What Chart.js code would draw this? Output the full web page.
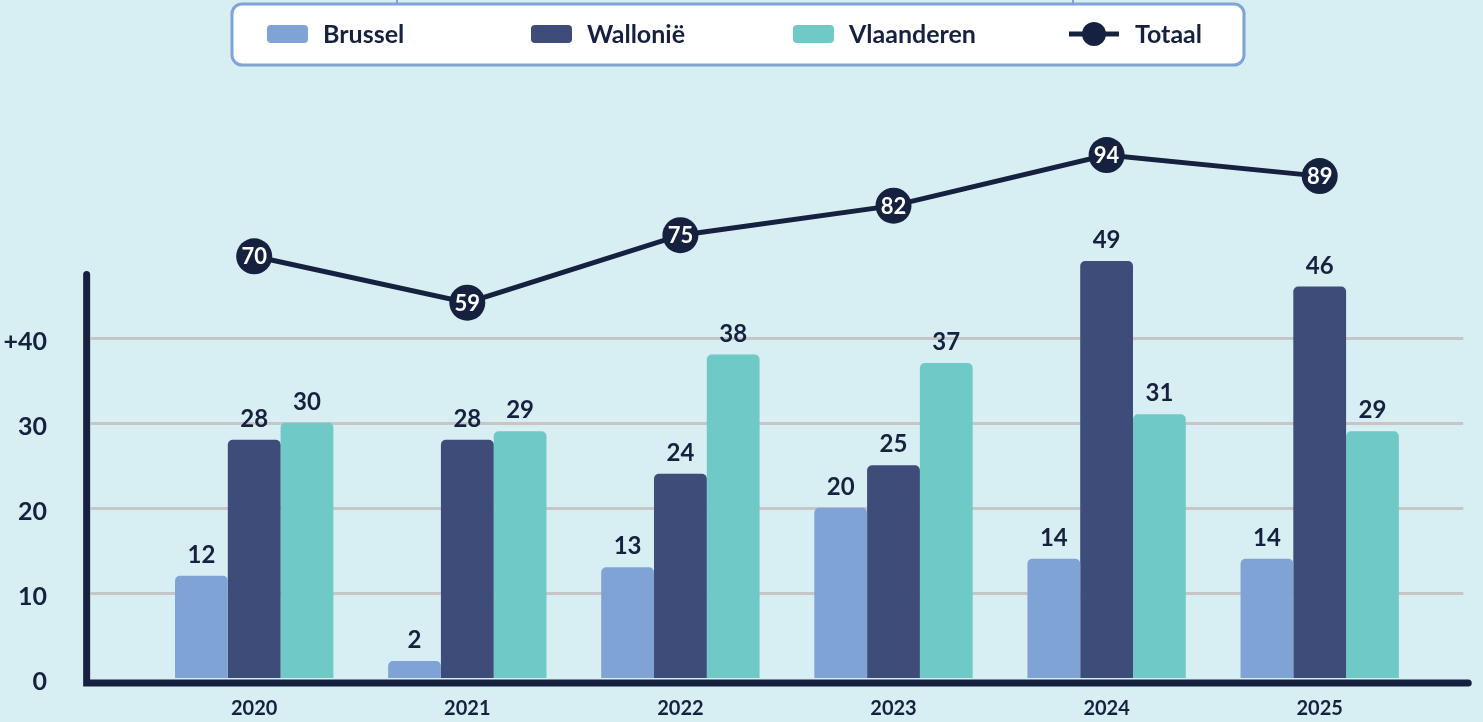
<!DOCTYPE html>
<html><head><meta charset="utf-8">
<script src="https://cdn.jsdelivr.net/npm/chart.js@4"></script>
<style>html,body{margin:0;padding:0;background:#d7eef2;overflow:hidden}</style>
</head><body>
<canvas id="c" width="1483" height="722"></canvas>
<script>
const categories = ['2020','2021','2022','2023','2024','2025'];
const brussel    = [12, 2, 13, 20, 14, 14];
const wallonie   = [28, 28, 24, 25, 49, 46];
const vlaanderen = [30, 29, 38, 37, 31, 29];
const totaal     = [70, 59, 75, 82, 94, 89];
const yTickValues = [0, 10, 20, 30, 40];
const seriesNames = ['Brussel', 'Wallonië', 'Vlaanderen', 'Totaal'];

const DARK = '#16213f';
const FONT = 'Lato, "Open Sans", sans-serif';
const W = 'bold';
const COLORS = ['#7fa3d5', '#3d4c78', '#6fc9c6', DARK];

const decor = {
  id: 'decor',
  beforeDatasetsDraw(chart) {
    const {ctx, chartArea: a, scales: {y}} = chart;
    ctx.save();
    ctx.strokeStyle = '#c6c6c6';
    ctx.lineWidth = 3;
    yTickValues.filter(v => v > 0).forEach(v => {
      const py = Math.round(y.getPixelForValue(v)) + 0.5;
      ctx.beginPath();
      ctx.moveTo(a.left - 57, py);
      ctx.lineTo(a.right + 37, py);
      ctx.stroke();
    });
    ctx.restore();
  },
  afterDatasetsDraw(chart) {
    const {ctx, chartArea: a, scales: {y}} = chart;
    ctx.save();
    const zero = y.getPixelForValue(0);
    const ax = a.left - 61;
    ctx.strokeStyle = DARK;
    ctx.lineWidth = 7;
    ctx.lineCap = 'round';
    ctx.beginPath();
    ctx.moveTo(ax, y.getPixelForValue(47.4));
    ctx.lineTo(ax, zero + 5);
    ctx.lineTo(a.right + 42, zero + 5);
    ctx.stroke();

    ctx.fillStyle = DARK;
    ctx.font = W + ' 24px ' + FONT;
    ctx.textAlign = 'center';
    ctx.textBaseline = 'alphabetic';
    [0, 1, 2].forEach(di => {
      const meta = chart.getDatasetMeta(di);
      const data = chart.data.datasets[di].data;
      meta.data.forEach((el, i) => {
        ctx.fillText(String(data[i]), el.x, el.y - 13);
      });
    });
    const lm = chart.getDatasetMeta(3);
    ctx.fillStyle = '#ffffff';
    ctx.font = W + ' 22px ' + FONT;
    ctx.textBaseline = 'middle';
    lm.data.forEach((el, i) => {
      ctx.fillText(String(chart.data.datasets[3].data[i]), el.x, el.y + 1);
    });
    ctx.restore();
  },
  afterDraw(chart) {
    const {ctx} = chart;
    ctx.save();
    ctx.strokeStyle = '#7fa3d5';
    ctx.lineWidth = 2;
    [397, 1073].forEach(x => {
      ctx.beginPath(); ctx.moveTo(x, 0); ctx.lineTo(x, 5); ctx.stroke();
    });
    ctx.fillStyle = '#ffffff';
    ctx.lineWidth = 3;
    ctx.beginPath();
    ctx.roundRect(232, 4, 1012, 61, 10);
    ctx.fill();
    ctx.stroke();
    const itemX = [267, 531, 793, 1069];
    const cy = 34;
    ctx.font = W + ' 25px ' + FONT;
    ctx.textAlign = 'left';
    ctx.textBaseline = 'middle';
    chart.data.datasets.forEach((ds, i) => {
      const x = itemX[i];
      let tx;
      if (ds.type === 'line') {
        ctx.strokeStyle = ds.borderColor;
        ctx.lineWidth = 5;
        ctx.beginPath(); ctx.moveTo(x, cy); ctx.lineTo(x + 50, cy); ctx.stroke();
        ctx.fillStyle = ds.borderColor;
        ctx.beginPath(); ctx.arc(x + 25, cy, 12, 0, Math.PI * 2); ctx.fill();
        tx = x + 66;
      } else {
        ctx.fillStyle = ds.backgroundColor;
        ctx.beginPath(); ctx.roundRect(x, cy - 9, 41, 18, 4); ctx.fill();
        tx = x + 56;
      }
      ctx.fillStyle = DARK;
      ctx.fillText(ds.label, tx, cy + 1);
    });
    ctx.restore();
  }
};

const barCommon = {
  type: 'bar',
  yAxisID: 'y',
  order: 1,
  categoryPercentage: 0.743,
  barPercentage: 1.0,
  borderRadius: 5,
  borderSkipped: 'start'
};

new Chart(document.getElementById('c'), {
  data: {
    labels: categories,
    datasets: [
      {...barCommon, label: seriesNames[0], data: brussel, backgroundColor: COLORS[0]},
      {...barCommon, label: seriesNames[1], data: wallonie, backgroundColor: COLORS[1]},
      {...barCommon, label: seriesNames[2], data: vlaanderen, backgroundColor: COLORS[2]},
      {type: 'line', label: seriesNames[3], data: totaal, yAxisID: 'y1', order: 0,
       borderColor: COLORS[3], backgroundColor: COLORS[3], borderWidth: 5, tension: 0,
       pointRadius: 18, pointHoverRadius: 18, pointBackgroundColor: COLORS[3], pointBorderWidth: 0}
    ]
  },
  options: {
    responsive: false,
    animation: false,
    devicePixelRatio: 1,
    layout: {autoPadding: false, padding: {top: 78, right: 56.75, bottom: 0, left: 0}},
    plugins: {legend: {display: false}, tooltip: {enabled: false}, title: {display: false}},
    events: [],
    scales: {
      x: {
        offset: true,
        grid: {display: false},
        border: {display: false},
        ticks: {color: DARK, font: {family: FONT, weight: W, size: 20}, padding: 11, maxRotation: 0},
        afterFit: s => { s.height = 44; s.paddingLeft = 0; s.paddingRight = 0; }
      },
      y: {
        position: 'left',
        min: 0, max: 70.5,
        grid: {display: false},
        border: {display: false},
        afterBuildTicks: s => { s.ticks = yTickValues.map(v => ({value: v})); },
        ticks: {
          color: DARK, font: {family: FONT, weight: W, size: 25}, padding: 92.6, labelOffset: 4,
          callback: v => (v === 40 ? '+40' : String(v))
        },
        afterFit: s => { s.width = 147.65; s.paddingTop = 0; s.paddingBottom = 0; }
      },
      y1: {
        display: false,
        min: -29.93, max: 112.25
      }
    }
  },
  plugins: [decor]
});
</script>
</body></html>
